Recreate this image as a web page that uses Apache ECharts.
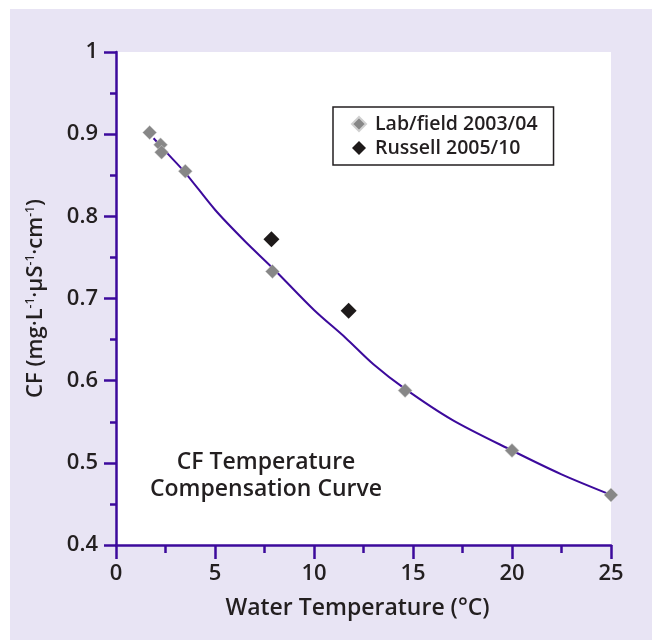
<!DOCTYPE html>
<html>
<head>
<meta charset="utf-8">
<script src="https://cdn.jsdelivr.net/npm/echarts@6/dist/echarts.min.js"></script>
<style>
  html, body { margin: 0; padding: 0; background: #fff; }
  #chart { width: 652px; height: 640px; }
</style>
</head>
<body>
<div id="chart"></div>
<script>
const chartDom = document.getElementById("chart");
const chart = echarts.init(chartDom);

// lab / field measurements (temperature degC, CF)
const labTemp = [1.7, 2.25, 2.3, 3.5, 7.9, 14.6, 20.0, 25.0];
const labCF = [0.902, 0.887, 0.878, 0.855, 0.733, 0.588, 0.515, 0.461];

// Russell measurements
const russellTemp = [7.85, 11.75];
const russellCF = [0.772, 0.685];

// compensation curve
const curveTemp = [1.9, 2.5, 3.5, 5, 6.5, 8, 10, 11.6, 13, 14.6, 17, 20, 22.5, 25];
const curveCF = [0.895, 0.879, 0.853, 0.808, 0.770, 0.735, 0.686, 0.652, 0.620, 0.590, 0.552, 0.515, 0.486, 0.461];

const axisColor = '#3c0a9c';
const textColor = '#231f20';
const fontFam = '"Open Sans", "Noto Sans", sans-serif';

const zip = (xs, ys) => xs.map((x, i) => [x, ys[i]]);

let option = {
    backgroundColor: '#ffffff',
    graphic: [
        {
            type: 'rect',
            shape: { x: 10, y: 9, width: 660, height: 660 },
            style: { fill: '#e8e4f4' },
            z: -10
        },
        {
            type: 'text',
            x: 266,
            y: 449,
            style: {
                text: 'CF Temperature\nCompensation Curve',
                textAlign: 'center',
                fill: textColor,
                font: '600 23px ' + fontFam,
                lineHeight: 27
            },
            z: 10
        }
    ],
    grid: {
        left: 116,
        right: 41,
        top: 52,
        bottom: 95,
        show: true,
        backgroundColor: '#ffffff',
        borderWidth: 0
    },
    legend: {
        orient: 'vertical',
        left: 333,
        top: 107,
        padding: [7, 16, 7, 18],
        itemGap: 4,
        itemWidth: 14,
        itemHeight: 14,
        borderColor: '#231f20',
        borderWidth: 1.5,
        backgroundColor: '#fff',
        data: [
            { name: 'Lab/field 2003/04', icon: 'diamond' },
            { name: 'Russell 2005/10', icon: 'diamond' }
        ],
        textStyle: {
            fontFamily: fontFam,
            fontWeight: 600,
            fontSize: 19.5,
            color: textColor,
            padding: [0, 0, 0, 4]
        }
    },
    xAxis: {
        type: 'value',
        min: 0,
        max: 25,
        interval: 5,
        name: 'Water Temperature (°C)',
        nameLocation: 'middle',
        nameGap: 52,
        nameTextStyle: { fontFamily: fontFam, fontWeight: 600, fontSize: 23, color: textColor, padding: [0, 12, 0, 0] },
        axisLine: { show: true, onZero: false, lineStyle: { color: axisColor, width: 2.5 } },
        axisTick: { show: true, length: 14, lineStyle: { color: axisColor, width: 2.5 } },
        minorTick: { show: true, splitNumber: 2, length: 8, lineStyle: { color: axisColor, width: 2.5 } },
        splitLine: { show: false },
        axisLabel: { margin: 18, fontFamily: fontFam, fontWeight: 600, fontSize: 22, color: textColor }
    },
    yAxis: {
        type: 'value',
        min: 0.4,
        max: 1,
        interval: 0.1,
        name: '{a|CF (mg·L}{s|-1}{a|·µS}{s|-1}{a|·cm}{s|-1}{a|)}',
        nameLocation: 'middle',
        nameGap: 66,
        nameRotate: 90,
        nameTextStyle: {
            rich: {
                a: { fontFamily: fontFam, fontWeight: 600, fontSize: 22, color: textColor, lineHeight: 28 },
                s: { fontFamily: fontFam, fontWeight: 600, fontSize: 12, color: textColor, padding: [0, 0, 11, 0], lineHeight: 28 }
            }
        },
        axisLine: { show: true, lineStyle: { color: axisColor, width: 2.5 } },
        axisTick: { show: true, length: 12, lineStyle: { color: axisColor, width: 2.5 } },
        minorTick: { show: true, splitNumber: 2, length: 6, lineStyle: { color: axisColor, width: 2.5 } },
        splitLine: { show: false },
        axisLabel: {
            margin: 18,
            fontFamily: fontFam,
            fontWeight: 600,
            fontSize: 22,
            color: textColor,
            formatter: (v) => (Math.abs(v - 1) < 1e-9 ? '1' : v.toFixed(1))
        }
    },
    series: [
        {
            name: 'curve',
            type: 'line',
            data: zip(curveTemp, curveCF),
            smooth: 0.3,
            showSymbol: false,
            lineStyle: { color: axisColor, width: 2 },
            z: 2,
            silent: true
        },
        {
            name: 'Lab/field 2003/04',
            type: 'scatter',
            data: zip(labTemp, labCF),
            symbol: 'diamond',
            symbolSize: 14,
            itemStyle: { color: '#878787', opacity: 1, borderColor: '#d0d0d0', borderWidth: 0.5 },
            z: 3
        },
        {
            name: 'Russell 2005/10',
            type: 'scatter',
            data: zip(russellTemp, russellCF),
            symbol: 'diamond',
            symbolSize: 16,
            itemStyle: { color: '#1e1a1a', opacity: 1 },
            z: 3
        }
    ]
};

chart.setOption(option);
</script>
</body>
</html>
